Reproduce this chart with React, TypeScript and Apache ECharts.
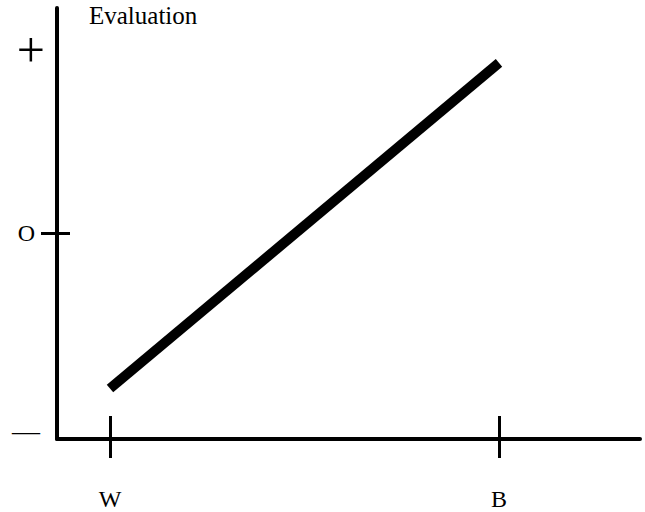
import React, { useEffect, useRef } from "react";
import * as echarts from "echarts";

const X_CATEGORIES = ["W", "B"];
const X_POSITIONS = [0, 1];
const Y_TICK_LABELS = ["—", "O", "+"];
const Y_TICK_VALUES = [-1.077, 0, 1];
const EVALUATION = [-0.85, 0.93];

const FONT = "Liberation Serif";

export default function App() {
  const ref = useRef<HTMLDivElement>(null);
  useEffect(() => {
    if (!ref.current) return;
    const chart = echarts.init(ref.current, undefined, { renderer: "svg" });
    const yLabel = (v: number) => {
      let idx = 0;
      let best = Infinity;
      Y_TICK_VALUES.forEach((t, i) => {
        const d = Math.abs(t - v);
        if (d < best) { best = d; idx = i; }
      });
      const key = ["m", "o", "p"][idx];
      return `{${key}|${Y_TICK_LABELS[idx]}}`;
    };
    const xLabel = (v: number) => {
      const i = X_POSITIONS.findIndex((p) => Math.abs(p - v) < 1e-6);
      return i >= 0 ? X_CATEGORIES[i] : "";
    };
    const gridLeft = 57;
    const gridRight = 5;
    const yMin = -1.126;
    const yMax = 1.23;
    const xMin = -0.1362;
    const xMax = 1.3625;
    chart.setOption({
      animation: false,
      backgroundColor: "#fff",
      title: {
        text: "Evaluation",
        left: 89,
        top: 3,
        padding: 0,
        textStyle: { fontFamily: FONT, fontSize: 25, fontWeight: "normal", color: "#000" },
      },
      grid: { left: gridLeft, right: gridRight, top: 8, bottom: 73 },
      xAxis: [
        {
          type: "value",
          min: xMin,
          max: xMax,
          position: "bottom",
          splitLine: { show: false },
          axisLine: { show: true, onZero: false, lineStyle: { color: "#000", width: 4 } },
          axisTick: { show: true, inside: false, length: 19, customValues: X_POSITIONS, lineStyle: { color: "#000", width: 3 } },
          axisLabel: {
            show: true,
            customValues: X_POSITIONS,
            formatter: xLabel,
            margin: 48,
            color: "#000",
            fontFamily: FONT,
            fontSize: 24,
          },
        },
        {
          type: "value",
          min: xMin,
          max: xMax,
          position: "bottom",
          offset: 0,
          splitLine: { show: false },
          axisLine: { show: false, onZero: false },
          axisTick: { show: true, inside: true, length: 23, customValues: X_POSITIONS, lineStyle: { color: "#000", width: 3 } },
          axisLabel: { show: false },
        },
      ],
      yAxis: [
        {
          type: "value",
          min: yMin,
          max: yMax,
          position: "left",
          splitLine: { show: false },
          axisLine: { show: true, onZero: false, lineStyle: { color: "#000", width: 4 } },
          axisTick: { show: true, inside: false, length: 16, customValues: [0], lineStyle: { color: "#000", width: 3 } },
          axisLabel: {
            show: true,
            customValues: Y_TICK_VALUES,
            formatter: yLabel,
            margin: 12,
            color: "#000",
            fontFamily: FONT,
            rich: {
              p: { fontFamily: FONT, fontSize: 50, color: "#000", padding: [0, 0, 0, 0] },
              o: { fontFamily: FONT, fontSize: 24, color: "#000", padding: [0, 10, 0, 0] },
              m: { fontFamily: FONT, fontSize: 28, color: "#000", padding: [0, 5, 0, 0] },
            },
          },
        },
        {
          type: "value",
          min: yMin,
          max: yMax,
          position: "left",
          offset: 0,
          splitLine: { show: false },
          axisLine: { show: false, onZero: false },
          axisTick: { show: true, inside: true, length: 13, customValues: [0], lineStyle: { color: "#000", width: 3 } },
          axisLabel: { show: false },
        },
      ],
      series: [
        {
          type: "line",
          xAxisIndex: 0,
          yAxisIndex: 0,
          data: X_POSITIONS.map((x, i) => [x, EVALUATION[i]]),
          symbol: "none",
          lineStyle: { color: "#000", width: 10, cap: "butt" },
        },
      ],
    });
    return () => chart.dispose();
  }, []);
  return (
    <div
      ref={ref}
      style={{ position: "absolute", left: 0, top: 0, width: 645, height: 512, background: "#fff" }}
    />
  );
}
